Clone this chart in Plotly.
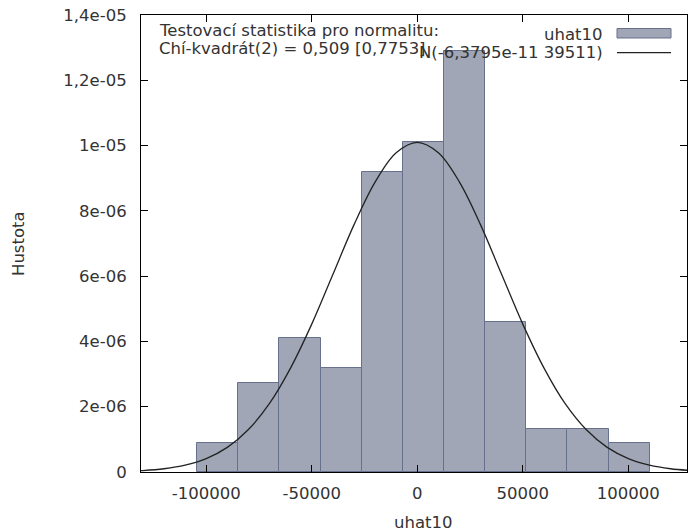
import plotly.graph_objects as go

# Histogram bins (bin centers, in uhat10 units) and density heights
bin_centers = [-94515, -75025, -55535, -36045, -16555, 2935, 22425, 41915, 61405, 80895, 100385]
bin_width = 19490
densities = [0.88e-6, 2.73e-6, 4.12e-6, 3.19e-6, 9.19e-6, 10.12e-6, 12.90e-6, 4.59e-6, 1.31e-6, 1.31e-6, 0.88e-6]

# Normal density curve N(-6,3795e-11, 39511)
curve_x = [-140000, -130000, -120000, -110000, -100000, -90000, -80000, -70000, -60000, -50000, -40000,
           -30000, -20000, -10000, 0, 10000, 20000, 30000, 40000, 50000, 60000, 70000, 80000,
           90000, 100000, 110000, 120000, 130000, 140000]
curve_y = [0.019e-6, 0.045e-6, 0.100e-6, 0.209e-6, 0.410e-6, 0.754e-6, 1.30e-6, 2.10e-6, 3.19e-6, 4.53e-6, 6.05e-6,
           7.57e-6, 8.88e-6, 9.78e-6, 10.10e-6, 9.78e-6, 8.88e-6, 7.57e-6, 6.05e-6, 4.53e-6, 3.19e-6,
           2.10e-6, 1.30e-6, 0.754e-6, 0.410e-6, 0.209e-6, 0.100e-6, 0.045e-6, 0.019e-6]

x_ticks = [-100000, -50000, 0, 50000, 100000]
x_ticktext = ["-100000", "-50000", "0", "50000", "100000"]
y_ticks = [0, 2e-6, 4e-6, 6e-6, 8e-6, 1e-5, 1.2e-5, 1.4e-5]
y_ticktext = ["0", "2e-06", "4e-06", "6e-06", "8e-06", "1e-05", "1,2e-05", "1,4e-05"]

FONT = "DejaVu Sans"
FS = 16.5
TXT = "#333333"
FILL = "#a0a6b6"
EDGE = "#67708c"

# plot area in pixels
L, R, T, B = 141, 687, 15, 472
W, H = R - L, B - T


def px(x):
    return (x - L) / W


def py(y):
    return (B - y) / H


fig = go.Figure()
fig.add_trace(go.Bar(x=bin_centers, y=densities, width=[bin_width] * len(bin_centers),
                     marker=dict(color=FILL, line=dict(color=EDGE, width=1)),
                     name="uhat10", showlegend=False))
fig.add_trace(go.Scatter(x=curve_x, y=curve_y, mode="lines",
                         line=dict(color="#222222", width=1.3, shape="spline"),
                         name="N(-6,3795e-11 39511)", showlegend=False))

font = dict(family=FONT, size=FS, color=TXT)

# Statistics text
fig.add_annotation(xref="paper", yref="paper", x=px(157), y=py(30.5),
                   text="Testovací statistika pro normalitu:", showarrow=False,
                   xanchor="left", yanchor="middle", font=font)
fig.add_annotation(xref="paper", yref="paper", x=px(157), y=py(48.5),
                   text="Chí-kvadrát(2) = 0,509 [0,7753]", showarrow=False,
                   xanchor="left", yanchor="middle", font=font)

# Legend (gnuplot style: text then sample)
fig.add_annotation(xref="paper", yref="paper", x=px(605), y=py(34),
                   text="uhat10", showarrow=False, xanchor="right", yanchor="middle", font=font)
fig.add_annotation(xref="paper", yref="paper", x=px(605), y=py(53),
                   text="N(-6,3795e-11 39511)", showarrow=False, xanchor="right", yanchor="middle",
                   font=font)
fig.add_shape(type="rect", xref="paper", yref="paper",
              x0=px(617), x1=px(671), y0=py(38), y1=py(28.5),
              fillcolor=FILL, line=dict(color=EDGE, width=1))
fig.add_shape(type="line", xref="paper", yref="paper",
              x0=px(617), x1=px(671), y0=py(52.7), y1=py(52.7),
              line=dict(color="#222222", width=1.3))

# Axis titles
fig.add_annotation(xref="paper", yref="paper", x=px(423), y=py(522),
                   text="uhat10", showarrow=False, xanchor="center", yanchor="middle", font=font)
fig.add_annotation(xref="paper", yref="paper", x=px(18), y=py(244),
                   text="Hustota", showarrow=False, xanchor="center", yanchor="middle",
                   textangle=-90, font=font)

fig.update_layout(
    width=688, height=531,
    margin=dict(l=L, r=688 - R, t=T, b=531 - B),
    paper_bgcolor="white", plot_bgcolor="white",
    bargap=0, showlegend=False,
    font=font,
)
fig.update_xaxes(range=[-130900, 127800], tickvals=x_ticks, ticktext=x_ticktext,
                 ticks="inside", ticklen=7, tickcolor="black", showline=True, linecolor="black",
                 linewidth=1, mirror="ticks", showgrid=False, zeroline=False,
                 ticklabelstandoff=6, tickfont=font)
fig.update_yaxes(range=[0, 1.4e-5], tickvals=y_ticks, ticktext=y_ticktext,
                 ticks="inside", ticklen=7, tickcolor="black", showline=True, linecolor="black",
                 linewidth=1, mirror="ticks", showgrid=False, zeroline=False,
                 ticklabelstandoff=10, tickfont=font)

fig.write_html("out.html")
